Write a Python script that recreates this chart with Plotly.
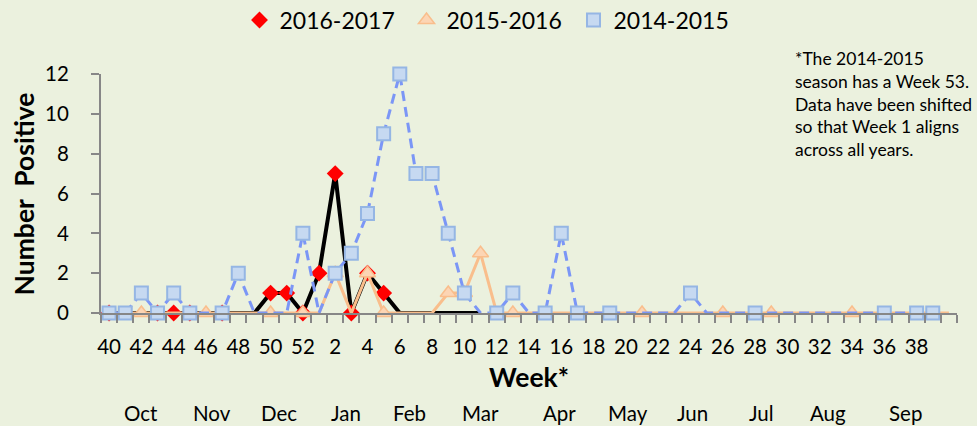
import plotly.graph_objects as go

# ---------------- data ----------------
weeks = ["40", "41", "42", "43", "44", "45", "46", "47", "48", "49", "50", "51", "52",
         "1", "2", "3", "4", "5", "6", "7", "8", "9", "10", "11", "12", "13", "14", "15",
         "16", "17", "18", "19", "20", "21", "22", "23", "24", "25", "26", "27", "28",
         "29", "30", "31", "32", "33", "34", "35", "36", "37", "38", "39", ""]

s2016_2017 = [0, 0, 0, 0, 0, 0, 0, 0, 0, 0, 1, 1, 0,
              2, 7, 0, 2, 1, 0, 0, 0, 0, 0, 0, None, None, None, None,
              None, None, None, None, None, None, None, None, None, None, None, None, None,
              None, None, None, None, None, None, None, None, None, None, None, None]
s2015_2016 = [0, 0, 0, 0, 0, 0, 0, 0, 0, 0, 0, 0, 0,
              0, 2, 0, 2, 0, 0, 0, 0, 1, 1, 3, 0, 0, 0, 0,
              0, 0, 0, 0, 0, 0, 0, 0, 0, 0, 0, 0, 0,
              0, 0, 0, 0, 0, 0, 0, 0, 0, 0, 0, 0]
s2014_2015 = [0, 0, 1, 0, 1, 0, 0, 0, 2, 0, 0, 0, 4,
              0, 2, 3, 5, 9, 12, 7, 7, 4, 1, 0, 0, 1, 0, 0,
              4, 0, 0, 0, 0, 0, 0, 0, 1, 0, 0, 0, 0,
              0, 0, 0, 0, 0, 0, 0, 0, 0, 0, 0, None]

# weeks (by position) where a marker is shown
marked_2016_2017 = [0, 3, 4, 5, 7, 10, 11, 12, 13, 14, 15, 16, 17]
marked_2015_2016 = [2, 6, 10, 12, 14, 16, 17, 21, 22, 23, 25, 33, 38, 41, 46]
marked_2014_2015 = [0, 1, 2, 3, 4, 5, 7, 8, 12, 14, 15, 16, 17, 18, 19, 20, 21, 22,
                    24, 25, 27, 28, 29, 31, 36, 40, 48, 50, 51]

months = ["Oct", "Nov", "Dec", "Jan", "Feb", "Mar", "Apr", "May", "Jun", "Jul", "Aug", "Sep"]
month_pos = [2.0, 6.4, 10.5, 14.7, 18.6, 23.0, 27.9, 32.1, 36.1, 40.4, 44.5, 49.3]

note_lines = ["*The 2014-2015", "season has a Week 53.", "Data have been shifted",
              "so that Week 1 aligns", "across all years."]

# ---------------- figure ----------------
x = list(range(len(weeks)))
FONT = "Lato, 'Open Sans', sans-serif"
BG = "#EBF1DE"
AX = "#878787"


def masked(vals, idx):
    return [v if i in idx else None for i, v in enumerate(vals)]


fig = go.Figure()

# 2016-2017 : black line + red diamonds
fig.add_trace(go.Scatter(x=x, y=s2016_2017, mode="lines", line=dict(color="black", width=4),
                         showlegend=False, cliponaxis=False, hoverinfo="skip"))
fig.add_trace(go.Scatter(x=x, y=masked(s2016_2017, marked_2016_2017), mode="markers",
                         name="2016-2017",
                         marker=dict(symbol="diamond", size=13, color="#FF0000", line=dict(width=0)),
                         cliponaxis=False))
# 2015-2016 : orange line + triangles
fig.add_trace(go.Scatter(x=x, y=s2015_2016, mode="lines", line=dict(color="#F9BE8C", width=3),
                         showlegend=False, cliponaxis=False, hoverinfo="skip"))
fig.add_trace(go.Scatter(x=x, y=masked(s2015_2016, marked_2015_2016), mode="markers",
                         name="2015-2016",
                         marker=dict(symbol="triangle-up", size=14, color="#FCD5B4",
                                     line=dict(color="#F9BE8C", width=1.5)),
                         cliponaxis=False))
# 2014-2015 : blue dashed line + squares
fig.add_trace(go.Scatter(x=x, y=s2014_2015, mode="lines",
                         line=dict(color="#7B96F6", width=3, dash="10px,6px"),
                         showlegend=False, cliponaxis=False, hoverinfo="skip"))
fig.add_trace(go.Scatter(x=x, y=masked(s2014_2015, marked_2014_2015), mode="markers",
                         name="2014-2015",
                         marker=dict(symbol="square", size=13, color="#C6D9F1",
                                     line=dict(color="#95B6E4", width=2)),
                         cliponaxis=False))

annotations = []
for m, p in zip(months, month_pos):
    annotations.append(dict(x=p, y=-0.418, xref="x", yref="paper", text=m, showarrow=False,
                            xanchor="center", yanchor="middle",
                            font=dict(family=FONT, size=20.5, color="black")))
annotations.append(dict(x=0.5, y=-0.268, xref="paper", yref="paper", text="<b>Week*</b>",
                        showarrow=False, xanchor="center", yanchor="middle",
                        font=dict(family=FONT, size=26.5, color="black")))
annotations.append(dict(x=-0.09, y=0.5, xref="paper", yref="paper", text="<b>Number  Positive</b>",
                        textangle=-90, showarrow=False, xanchor="center", yanchor="middle",
                        font=dict(family=FONT, size=26.5, color="black")))
annotations.append(dict(x=(793 - 101) / 856, y=1 + (74 - 46) / 239, xref="paper", yref="paper",
                        text="<br>".join(note_lines), align="left", showarrow=False,
                        xanchor="left", yanchor="top",
                        font=dict(family=FONT, size=17.5, color="black")))

fig.update_layout(
    width=977, height=426,
    margin=dict(l=101, r=20, t=74, b=113, autoexpand=False),
    paper_bgcolor=BG, plot_bgcolor=BG,
    font=dict(family=FONT, color="black"),
    showlegend=True,
    legend=dict(orientation="h", xref="container", x=490 / 977, xanchor="center",
                yref="container", y=1 - 20 / 426, yanchor="middle",
                entrywidth=122, entrywidthmode="pixels",
                font=dict(family=FONT, size=23, color="black"),
                bgcolor="rgba(0,0,0,0)", traceorder="normal"),
    annotations=annotations,
    hovermode=False,
)

fig.update_xaxes(
    range=[-0.5, len(weeks) - 0.5],
    tickmode="array", tickvals=x[::2], ticktext=weeks[::2],
    ticks="", showgrid=False, zeroline=False,
    showline=True, linecolor=AX, linewidth=2,
    tickfont=dict(family=FONT, size=20.5, color="black"),
    ticklabelstandoff=14,
    minor=dict(ticks="outside", tick0=-0.5, dtick=1, ticklen=8, tickcolor=AX, tickwidth=2,
               showgrid=False),
)
fig.update_yaxes(
    range=[0, 12], tickmode="linear", tick0=0, dtick=2,
    ticks="outside", ticklen=8, tickcolor=AX, tickwidth=2,
    showgrid=False, zeroline=False,
    showline=True, linecolor=AX, linewidth=2,
    tickfont=dict(family=FONT, size=20.5, color="black"),
    ticklabelstandoff=18,
)

fig.write_html("out.html", config={"displayModeBar": False},
               post_script="document.body.style.margin='0';document.body.style.overflow='hidden';")
